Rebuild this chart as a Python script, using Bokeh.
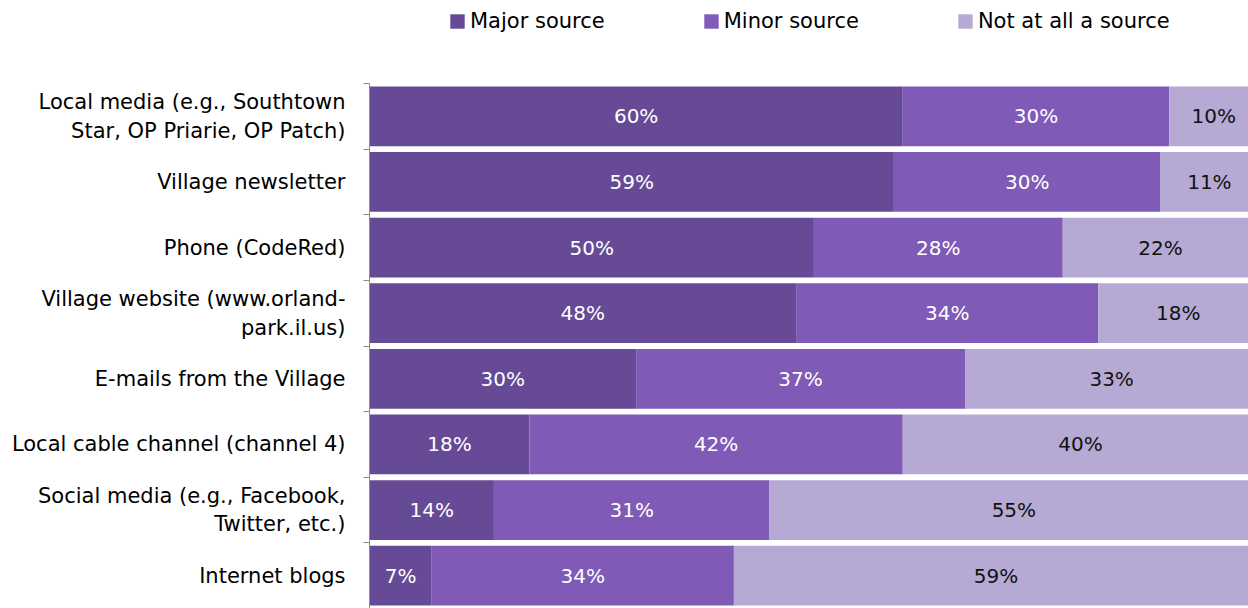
from bokeh.plotting import figure
from bokeh.models import Range1d, FixedTicker, Legend, LegendItem, ColumnDataSource
from bokeh.embed import file_html
from bokeh.resources import INLINE
from bokeh.core.properties import value
import numpy as np

categories = [
    "Local media (e.g., Southtown\nStar, OP Priarie, OP Patch)",
    "Village newsletter",
    "Phone (CodeRed)",
    "Village website (www.orland-\npark.il.us)",
    "E-mails from the Village",
    "Local cable channel (channel 4)",
    "Social media (e.g., Facebook,\nTwitter, etc.)",
    "Internet blogs",
]
major = [60, 59, 50, 48, 30, 18, 14, 7]
minor = [30, 30, 28, 34, 37, 42, 31, 34]
not_at_all = [10, 11, 22, 18, 33, 40, 55, 59]
series_keys = ["major", "minor", "not_at_all"]
series_names = ["Major source", "Minor source", "Not at all a source"]
colors = ["#664A96", "#7F5AB6", "#B6AAD4"]
label_colors = ["#FFFFFF", "#FFFFFF", "#111111"]

FONT = "DejaVu Sans"
n = len(categories)
ypos = list(range(n))

# layout: frame spans whole height; bars occupy area below the legend band
H = 608
top_px = 83
row_px = (H - top_px) / n
top_pad = top_px / row_px

source = ColumnDataSource(dict(y=ypos, major=major, minor=minor, not_at_all=not_at_all))

p = figure(width=1248, height=H, x_range=Range1d(0, 98.9), y_range=Range1d(n - 0.5, -0.5 - top_pad),
           output_backend="svg", toolbar_location=None, x_axis_location=None,
           min_border_left=369, min_border_right=0, min_border_top=0, min_border_bottom=0)
p.outline_line_color = None
p.xgrid.visible = False
p.ygrid.visible = False

renderers = p.hbar_stack(series_keys, y="y", height=0.91, color=colors, line_color=None, source=source)

vals = np.array([major, minor, not_at_all], dtype=float)
lefts = np.vstack([np.zeros(n), np.cumsum(vals, axis=0)[:-1]])
for k in range(3):
    mids = lefts[k] + vals[k] / 2
    p.text(x=list(mids), y=ypos, text=[f"{int(v)}%" for v in vals[k]],
           text_align="center", text_baseline="middle", text_color=label_colors[k],
           text_font=value(FONT), text_font_size="20px")

ax = p.yaxis[0]
ax.bounds = (-0.5, n - 0.5)
ax.ticker = FixedTicker(ticks=ypos, minor_ticks=[i - 0.5 for i in range(n + 1)])
ax.major_label_overrides = {i: c for i, c in enumerate(categories)}
ax.major_tick_out = 0
ax.major_tick_in = 0
ax.minor_tick_out = 6
ax.minor_tick_in = 0
ax.minor_tick_line_color = "#8C8C8C"
ax.axis_line_color = "#8C8C8C"
ax.major_label_text_font = FONT
ax.major_label_text_font_size = "21px"
ax.major_label_text_color = "#000000"
ax.major_label_text_line_height = 1.2
ax.major_label_standoff = 18

legend = Legend(items=[LegendItem(label=nm, renderers=[r]) for nm, r in zip(series_names, renderers)],
                orientation="horizontal", location=(79, 575), spacing=97,
                glyph_width=18, glyph_height=18, label_standoff=4,
                label_text_font=FONT, label_text_font_size="21px", label_text_color="#000000",
                padding=0, margin=0, border_line_color=None, background_fill_alpha=0)
p.add_layout(legend, "center")

open("out.html", "w").write(file_html(p, INLINE))
